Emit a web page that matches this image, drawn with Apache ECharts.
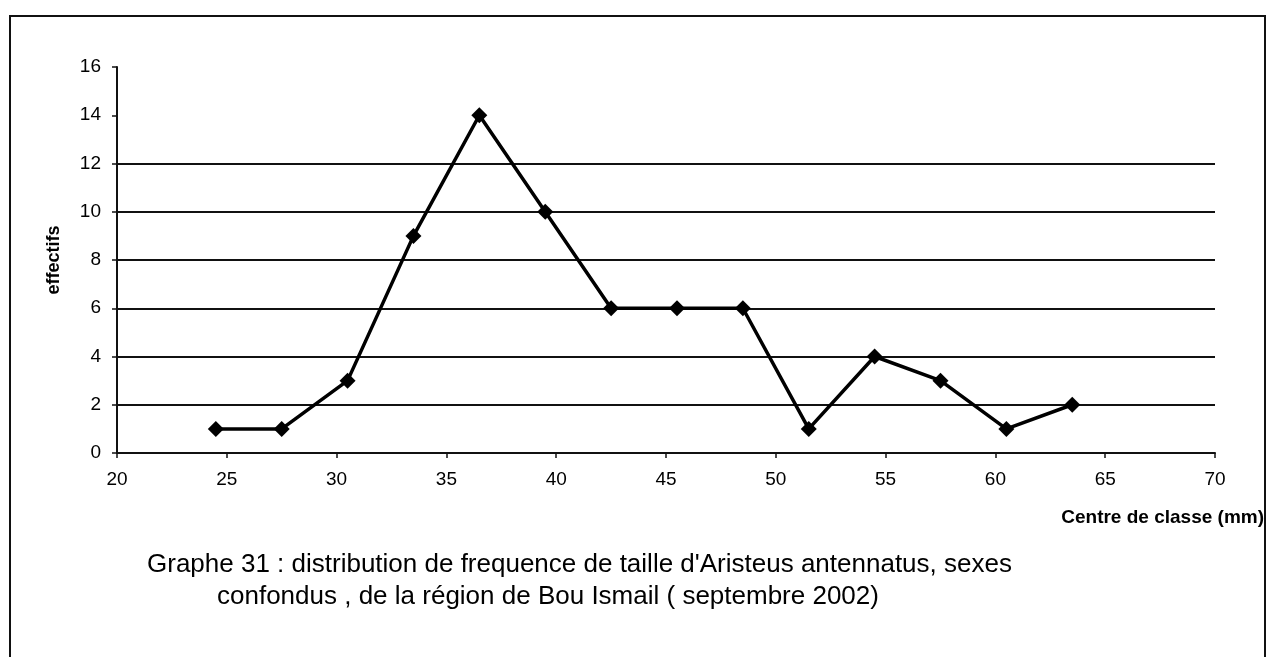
<!DOCTYPE html>
<html>
<head>
<meta charset="utf-8">
<script src="https://cdn.jsdelivr.net/npm/echarts@6/dist/echarts.min.js"></script>
<style>
  html, body { margin: 0; padding: 0; background: #fff; }
  #chart { width: 1275px; height: 657px; }
</style>
</head>
<body>
<div id="chart"></div>
<script>
// Class centres (mm) and counts
const classCentres = [24.5, 27.5, 30.5, 33.5, 36.5, 39.5, 42.5, 45.5, 48.5, 51.5, 54.5, 57.5, 60.5, 63.5];
const counts = [1, 1, 3, 9, 14, 10, 6, 6, 6, 1, 4, 3, 1, 2];

const titleLine1 = "Graphe 31 : distribution de frequence de taille d'Aristeus antennatus, sexes";
const titleLine2 = "confondus , de la région de Bou Ismail ( septembre 2002)";
const xAxisTitle = "Centre de classe (mm)";
const yAxisTitle = "effectifs";

const font = "'Liberation Sans', Arial, sans-serif";
const chart = echarts.init(document.getElementById('chart'), null, { renderer: 'canvas' });

// grid lines: drawn for 2..12, not for 0 (axis) or the top two levels
const splitColors = ['rgba(0,0,0,0)', '#111', '#111', '#111', '#111', '#111', '#111', 'rgba(0,0,0,0)', 'rgba(0,0,0,0)'];

chart.setOption({
  backgroundColor: '#fff',
  animation: false,
  grid: { left: 117, right: 60, top: 67, bottom: 204 },
  xAxis: {
    type: 'value',
    min: 20, max: 70, interval: 5,
    axisLine: { show: true, lineStyle: { color: '#111', width: 2 } },
    axisTick: { show: true, length: 5, lineStyle: { color: '#111', width: 1.5 } },
    axisLabel: { color: '#000', fontFamily: font, fontSize: 19, margin: 17 },
    splitLine: { show: false }
  },
  yAxis: {
    type: 'value',
    min: 0, max: 16, interval: 2,
    name: yAxisTitle,
    nameLocation: 'middle',
    nameGap: 54,
    nameTextStyle: { color: '#000', fontFamily: font, fontSize: 18, fontWeight: 'bold' },
    axisLine: { show: true, lineStyle: { color: '#111', width: 2 } },
    axisTick: { show: true, length: 5, lineStyle: { color: '#111', width: 1.5 } },
    axisLabel: { color: '#000', fontFamily: font, fontSize: 19, margin: 16 },
    splitLine: { show: true, lineStyle: { color: splitColors, width: 2 } }
  },
  series: [{
    type: 'line',
    data: classCentres.map((x, i) => [x, counts[i]]),
    symbol: 'diamond',
    symbolSize: 16,
    lineStyle: { color: '#000', width: 3.5 },
    itemStyle: { color: '#000' }
  }],
  graphic: [
    {
      type: 'rect',
      shape: { x: 10, y: 16, width: 1255, height: 720 },
      style: { fill: 'none', stroke: '#111', lineWidth: 2 },
      silent: true
    },
    {
      type: 'text',
      right: 11, top: 508,
      style: { text: xAxisTitle, fill: '#000', font: 'bold 19px ' + font }
    },
    {
      type: 'text',
      left: 147, top: 552,
      style: { text: titleLine1, fill: '#000', font: '26px ' + font }
    },
    {
      type: 'text',
      left: 217, top: 584,
      style: { text: titleLine2, fill: '#000', font: '26px ' + font }
    }
  ]
});
</script>
</body>
</html>
